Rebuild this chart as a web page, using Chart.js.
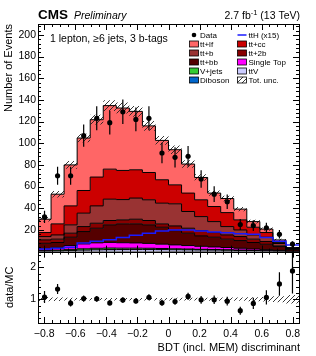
<!DOCTYPE html>
<html>
<head>
<meta charset="utf-8">
<script src="https://cdn.jsdelivr.net/npm/chart.js@4.4.1/dist/chart.umd.min.js"></script>
<style>
  html, body { margin: 0; padding: 0; background: #fff; }
  canvas { display: block; }
</style>
</head>
<body>
<canvas id="bdt" width="316" height="356"></canvas>
<script>
// bin edges of the BDT (incl. MEM) discriminant
const binEdges = [-0.84, -0.756, -0.672, -0.588, -0.504, -0.42, -0.336, -0.252, -0.168, -0.084, 0,
                  0.084, 0.168, 0.252, 0.336, 0.42, 0.504, 0.588, 0.672, 0.756, 0.84];
const xTicks = [-0.8, -0.6, -0.4, -0.2, 0, 0.2, 0.4, 0.6, 0.8];
const yTicks = [20, 40, 60, 80, 100, 120, 140, 160, 180, 200];
const ratioTicks = [1, 2];

const dataCounts = [32, 70, 70, 107, 123, 119, 129, 122, 123, 91, 87, 88, 67, 53, 46, 25, 24, 22, 16, 7];

// backgrounds, bottom of the stack first
const diboson   = [0.1, 0.1, 0.2, 0.2, 0.2, 0.3, 0.2, 0.2, 0.2, 0.2, 0.1, 0.1, 0.1, 0.1, 0.1, 0.1, 0.0, 0.0, 0.0, 0.0];
const ttV       = [0.4, 0.6, 0.9, 1.2, 1.5, 1.6, 1.7, 1.8, 1.8, 1.7, 1.6, 1.5, 1.4, 1.3, 1.2, 1.0, 0.9, 0.7, 0.5, 0.2];
const vJets     = [0.4, 0.7, 1.0, 1.2, 1.4, 1.4, 1.3, 1.2, 1.1, 1.0, 0.9, 0.8, 0.6, 0.5, 0.4, 0.3, 0.2, 0.1, 0.1, 0.0];
const singleTop = [1.5, 2.5, 3.5, 4.5, 5.0, 5.2, 5.0, 4.8, 4.5, 4.0, 3.6, 3.2, 2.8, 2.4, 2.1, 1.7, 1.3, 1.0, 0.6, 0.3];
const ttbb      = [5.3, 4.5, 7.7, 11.4, 13.5, 16.2, 17.4, 17.6, 17.1, 15.6, 13.2, 11.4, 9.6, 9.0, 7.7, 7.1, 6.0, 5.0, 3.4, 1.6];
const tt2b      = [3.1, 3.1, 3.7, 4.6, 4.6, 4.0, 3.7, 4.3, 4.0, 3.1, 4.3, 4.6, 4.9, 4.3, 3.9, 3.7, 3.1, 2.5, 0.7, 0.3];
const ttb       = [3.1, 3.9, 7.7, 12.4, 16.0, 19.7, 18.7, 19.5, 19.1, 19.1, 20.4, 15.4, 12.9, 10.1, 7.7, 6.1, 3.9, 4.0, 2.2, 0.4];
const ttcc      = [3.7, 10.2, 17.5, 20.9, 26.6, 27.7, 26.9, 26.1, 25.2, 21.6, 17.5, 17.0, 15.5, 13.9, 12.9, 9.3, 7.1, 4.3, 1.0, 0.3];
const ttlf      = [12.3, 27.4, 37.8, 48.4, 52.9, 58.6, 57.6, 53.9, 43.0, 36.3, 32.4, 26.8, 20.6, 12.4, 13.0, 9.9, 5.2, 3.2, 2.3, 0.6];

const totUnc = [2.0, 3.0, 3.5, 4.0, 4.5, 5.0, 5.0, 5.0, 4.5, 4.0, 4.0, 3.5, 3.0, 2.5, 2.5, 2.0, 1.8, 1.5, 1.0, 0.5];
const ttHx15 = [2.5, 3, 4, 8, 9.5, 11, 13, 15, 17, 19, 20, 20, 19, 18, 17.5, 16.5, 16, 13, 9.5, 6];

const stackOrder = [
  { name: 'Diboson',    vals: diboson,   color: '#0066cc' },
  { name: 'ttV',        vals: ttV,       color: '#ccccff' },
  { name: 'V+jets',     vals: vJets,     color: '#33cc33' },
  { name: 'Single Top', vals: singleTop, color: '#ff00ff' },
  { name: 'tt+bb',      vals: ttbb,      color: '#550000' },
  { name: 'tt+2b',      vals: tt2b,      color: '#880000' },
  { name: 'tt+b',       vals: ttb,       color: '#993333' },
  { name: 'tt+cc',      vals: ttcc,      color: '#cc0000' },
  { name: 'tt+lf',      vals: ttlf,      color: '#ff6666' }
];

const FONT = '"Liberation Sans", Arial, Helvetica, sans-serif';

const centers = binEdges.slice(0, -1).map((e, i) => (e + binEdges[i + 1]) / 2);

// running sums for the stack
const cum = [];
stackOrder.forEach((s, k) => {
  cum.push(s.vals.map((v, i) => v + (k ? cum[k - 1][i] : 0)));
});
const total = cum[cum.length - 1];
const dataErr = dataCounts.map(n => Math.sqrt(n));
const ratioVals = dataCounts.map((n, i) => n / total[i]);
const ratioErr = dataErr.map((e, i) => e / total[i]);

function step(vals) {
  return binEdges.map((e, i) => ({ x: e, y: vals[Math.min(i, vals.length - 1)] }));
}

function makeHatch() {
  const c = document.createElement('canvas');
  c.width = 5; c.height = 5;
  const g = c.getContext('2d');
  g.strokeStyle = '#222';
  g.lineWidth = 0.9;
  g.beginPath();
  g.moveTo(0, 5); g.lineTo(5, 0);
  g.moveTo(-1, 1); g.lineTo(1, -1);
  g.moveTo(4, 6); g.lineTo(6, 4);
  g.stroke();
  return g.createPattern(c, 'repeat');
}
const hatch = makeHatch();
const clear = 'rgba(0,0,0,0)';

const datasets = [
  { label: 'Data', yAxisID: 'y', showLine: false,
    data: centers.map((x, i) => ({ x: x, y: dataCounts[i] })),
    pointRadius: 2.6, pointBackgroundColor: '#000', pointBorderWidth: 0 },
  { label: 'ratio', yAxisID: 'yr', showLine: false,
    data: centers.map((x, i) => ({ x: x, y: ratioVals[i] })),
    pointRadius: 2.6, pointBackgroundColor: '#000', pointBorderWidth: 0 },
  { label: 'ttH (x15)', yAxisID: 'y', data: step(ttHx15), stepped: true,
    borderColor: '#1a1aff', borderWidth: 1.5, pointRadius: 0, fill: false },
  { label: 'unc lo', yAxisID: 'y', data: step(total.map((t, i) => t - totUnc[i])), stepped: true,
    borderColor: clear, borderWidth: 1, pointRadius: 0, fill: false },
  { label: 'unc hi', yAxisID: 'y', data: step(total.map((t, i) => t + totUnc[i])), stepped: true,
    borderColor: clear, borderWidth: 1, pointRadius: 0, fill: '-1', backgroundColor: hatch },
  { label: 'runc lo', yAxisID: 'yr', data: step(total.map((t, i) => 1 - totUnc[i] / t)), stepped: true,
    borderColor: clear, borderWidth: 1, pointRadius: 0, fill: false },
  { label: 'runc hi', yAxisID: 'yr', data: step(total.map((t, i) => 1 + totUnc[i] / t)), stepped: true,
    borderColor: clear, borderWidth: 1, pointRadius: 0, fill: '-1', backgroundColor: hatch }
];
for (let k = stackOrder.length - 1; k >= 0; k--) {
  datasets.push({
    label: stackOrder[k].name, yAxisID: 'y', data: step(cum[k]), stepped: true,
    borderColor: '#000', borderWidth: 1, pointRadius: 0,
    backgroundColor: stackOrder[k].color, fill: k === 0 ? 'origin' : '+1'
  });
}

// error bars of the data, in both panels
const errorBars = {
  id: 'errorBars',
  afterDatasetsDraw(chart) {
    const ctx = chart.ctx, xs = chart.scales.x;
    [[chart.scales.y, dataCounts, dataErr], [chart.scales.yr, ratioVals, ratioErr]].forEach(([ys, vals, errs]) => {
      ctx.save();
      ctx.beginPath();
      ctx.rect(xs.left, ys.top, xs.right - xs.left, ys.bottom - ys.top);
      ctx.clip();
      ctx.strokeStyle = '#000';
      ctx.lineWidth = 1.2;
      vals.forEach((v, i) => {
        const px = xs.getPixelForValue(centers[i]);
        ctx.beginPath();
        ctx.moveTo(px, ys.getPixelForValue(v - errs[i]));
        ctx.lineTo(px, ys.getPixelForValue(v + errs[i]));
        ctx.stroke();
      });
      ctx.restore();
    });
  }
};

// ROOT-like frames with inward ticks on all sides
const rootFrame = {
  id: 'rootFrame',
  afterDraw(chart) {
    const ctx = chart.ctx, xs = chart.scales.x;
    const L = xs.left, R = xs.right;
    ctx.save();
    ctx.strokeStyle = '#000';
    ctx.lineWidth = 1;
    const panels = [
      { ys: chart.scales.y, major: yTicks, minorStep: 4, lo: 0, hi: 210 },
      { ys: chart.scales.yr, major: ratioTicks, minorStep: 0.2, lo: 0.25, hi: 2.5 }
    ];
    panels.forEach(p => {
      const T = p.ys.top, B = p.ys.bottom;
      ctx.strokeRect(Math.round(L) + 0.5, Math.round(T) + 0.5, Math.round(R - L), Math.round(B - T));
      ctx.beginPath();
      // y ticks
      for (let v = 0; v <= p.hi + 1e-9; v += p.minorStep) {
        if (v < p.lo - 1e-9) continue;
        const isMajor = p.major.some(m => Math.abs(m - v) < 1e-6);
        const len = isMajor ? 6 : 3;
        const py = Math.round(p.ys.getPixelForValue(v)) + 0.5;
        ctx.moveTo(L, py); ctx.lineTo(L + len, py);
        ctx.moveTo(R, py); ctx.lineTo(R - len, py);
      }
      // x ticks
      for (let i = -16; i <= 16; i++) {
        const v = i * 0.05;
        const isMajor = i % 4 === 0;
        const len = isMajor ? 6 : 3;
        const px = Math.round(xs.getPixelForValue(v)) + 0.5;
        ctx.moveTo(px, B); ctx.lineTo(px, B - len);
        ctx.moveTo(px, T); ctx.lineTo(px, T + len);
      }
      ctx.stroke();
    });
    ctx.restore();
  }
};

// labels, titles and the two-column legend
const rootText = {
  id: 'rootText',
  afterDraw(chart) {
    const ctx = chart.ctx;
    const ys = chart.scales.y, yr = chart.scales.yr;
    ctx.save();
    ctx.fillStyle = '#000';
    ctx.textBaseline = 'alphabetic';

    ctx.textAlign = 'left';
    ctx.font = 'bold 13.5px ' + FONT;
    ctx.fillText('CMS', 38, 19);
    ctx.font = 'italic 10.5px ' + FONT;
    ctx.fillText('Preliminary', 74, 19);

    // lumi label, right aligned
    const big = '10.5px ' + FONT, small = '7.5px ' + FONT;
    const parts = [['2.7 fb', big, 0], ['-1', small, -4], [' (13 TeV)', big, 0]];
    let w = 0;
    parts.forEach(p => { ctx.font = p[1]; w += ctx.measureText(p[0]).width; });
    let x = 300 - w;
    parts.forEach(p => { ctx.font = p[1]; ctx.fillText(p[0], x, 19 + p[2]); x += ctx.measureText(p[0]).width; });

    ctx.font = '10.5px ' + FONT;
    ctx.fillText('1 lepton, \u22656 jets, 3 b-tags', 50, 42);

    // axis titles
    ctx.font = '11px ' + FONT;
    ctx.textAlign = 'right';
    ctx.fillText('BDT (incl. MEM) discriminant', 300, 351);
    ctx.save();
    ctx.translate(11.5, ys.top);
    ctx.rotate(-Math.PI / 2);
    ctx.fillText('Number of Events', 0, 0);
    ctx.restore();
    ctx.save();
    ctx.translate(12.5, (yr.top + yr.bottom) / 2);
    ctx.rotate(-Math.PI / 2);
    ctx.textAlign = 'center';
    ctx.fillText('data/MC', 0, 0);
    ctx.restore();

    // legend
    const rows = [35, 44, 53, 62, 71, 80];
    const colBox = [189.5, 237.5], colText = [200, 248.5];
    const byName = {};
    stackOrder.forEach(s => { byName[s.name] = s.color; });
    const items = [
      ['Data', 'data'], ['ttH (x15)', 'line'],
      ['tt+lf', byName['tt+lf']], ['tt+cc', byName['tt+cc']],
      ['tt+b', byName['tt+b']], ['tt+2b', byName['tt+2b']],
      ['tt+bb', byName['tt+bb']], ['Single Top', byName['Single Top']],
      ['V+jets', byName['V+jets']], ['ttV', byName['ttV']],
      ['Diboson', byName['Diboson']], ['Tot. unc.', 'hatch']
    ];
    ctx.font = '8px ' + FONT;
    ctx.textAlign = 'left';
    items.forEach((it, k) => {
      const c = k % 2, yc = rows[Math.floor(k / 2)];
      const bx = colBox[c];
      if (it[1] === 'data') {
        ctx.beginPath();
        ctx.arc(bx + 4.5, yc, 2.3, 0, Math.PI * 2);
        ctx.fill();
      } else if (it[1] === 'line') {
        ctx.strokeStyle = '#1a1aff';
        ctx.lineWidth = 1.5;
        ctx.beginPath();
        ctx.moveTo(bx, yc); ctx.lineTo(bx + 9, yc);
        ctx.stroke();
      } else {
        ctx.fillStyle = it[1] === 'hatch' ? hatch : it[1];
        ctx.fillRect(bx, yc - 3, 9, 6);
        ctx.strokeStyle = '#000';
        ctx.lineWidth = 0.8;
        ctx.strokeRect(bx, yc - 3, 9, 6);
      }
      ctx.fillStyle = '#000';
      ctx.fillText(it[0], colText[c], yc + 3);
    });
    ctx.restore();
  }
};

const tickFont = { family: FONT, size: 10.5 };

new Chart(document.getElementById('bdt'), {
  type: 'line',
  data: { datasets: datasets },
  options: {
    responsive: false,
    animation: false,
    devicePixelRatio: 1,
    layout: { padding: { top: 24, right: 17, left: 0, bottom: 0 } },
    plugins: {
      legend: { display: false },
      tooltip: { enabled: false },
      filler: { drawTime: 'beforeDatasetsDraw', propagate: false }
    },
    scales: {
      x: {
        type: 'linear', position: 'bottom', min: -0.84, max: 0.84,
        grid: { display: false, drawTicks: false }, border: { display: false },
        afterBuildTicks: s => { s.ticks = xTicks.map(v => ({ value: v })); },
        afterFit: s => { s.height = 33; },
        ticks: {
          color: '#000', font: tickFont, padding: 5, maxRotation: 0, autoSkip: false,
          callback: v => Math.abs(v) < 1e-9 ? '0' : (v < 0 ? '\u2212' + Math.abs(v).toFixed(1) : v.toFixed(1))
        }
      },
      y: {
        type: 'linear', position: 'left', stack: 'panels', stackWeight: 228, weight: 2,
        min: 0, max: 210,
        grid: { display: false, drawTicks: false }, border: { display: false },
        afterBuildTicks: s => { s.ticks = yTicks.map(v => ({ value: v })); },
        afterFit: s => { s.width = 38; },
        ticks: { color: '#000', font: tickFont, padding: 2, autoSkip: false }
      },
      yr: {
        type: 'linear', position: 'left', stack: 'panels', stackWeight: 71.5, weight: 1,
        min: 0.25, max: 2.5,
        grid: { display: false, drawTicks: false }, border: { display: false },
        afterBuildTicks: s => { s.ticks = ratioTicks.map(v => ({ value: v })); },
        afterFit: s => { s.width = 38; },
        ticks: { color: '#000', font: tickFont, padding: 2, autoSkip: false }
      }
    }
  },
  plugins: [errorBars, rootFrame, rootText]
});
</script>
</body>
</html>
